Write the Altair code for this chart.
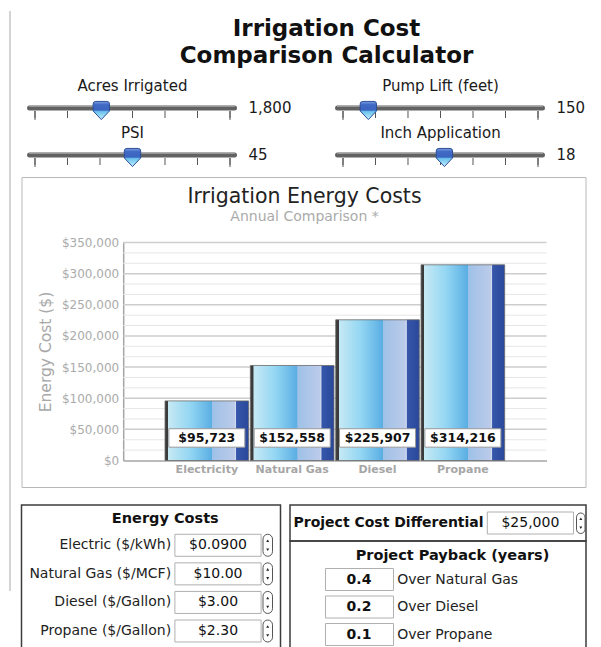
import altair as alt
import pandas as pd

# ---------------- data ----------------
calc_title = ["Irrigation Cost", "Comparison Calculator"]

slider_names = ["Acres Irrigated", "Pump Lift (feet)", "PSI", "Inch Application"]
slider_values = ["1,800", "150", "45", "18"]
slider_positions = [0.34, 0.13, 0.50, 0.52]
slider_ticks = [0.0, 0.1667, 0.3333, 0.5, 0.6667, 0.8333, 1.0]

chart_title = ["Irrigation Energy Costs"]
chart_subtitle = ["Annual Comparison *"]
fuels = ["Electricity", "Natural Gas", "Diesel", "Propane"]
annual_costs = [95723, 152558, 225907, 314216]
cost_labels = ["$95,723", "$152,558", "$225,907", "$314,216"]
y_ticks = [0, 50000, 100000, 150000, 200000, 250000, 300000, 350000]
y_minor = [16667, 33333, 66667, 83333, 116667, 133333, 166667, 183333,
           216667, 233333, 266667, 283333, 316667, 333333]

energy_title = ["Energy Costs"]
energy_items = ["Electric ($/kWh)", "Natural Gas ($/MCF)", "Diesel ($/Gallon)", "Propane ($/Gallon)"]
energy_prices = ["$0.0900", "$10.00", "$3.00", "$2.30"]
diff_label = ["Project Cost Differential"]
diff_value = ["$25,000"]
payback_title = ["Project Payback (years)"]
payback_years = ["0.4", "0.2", "0.1"]
payback_items = ["Over Natural Gas", "Over Diesel", "Over Propane"]

# ---------------- styles ----------------
FONT = "DejaVu Sans"
SHIELD = "M-0.9,-0.72 Q-0.9,-1 -0.62,-1 L0.62,-1 Q0.9,-1 0.9,-0.72 L0.9,0.05 L0,1 L-0.9,0.05 Z"

handle_grad = alt.LinearGradient(
    gradient="linear", x1=0, y1=0, x2=0, y2=1,
    stops=[alt.GradientStop(color="#7d9ee0", offset=0),
           alt.GradientStop(color="#3f69c4", offset=0.18),
           alt.GradientStop(color="#3a64c0", offset=0.48),
           alt.GradientStop(color="#6cc2ee", offset=0.56),
           alt.GradientStop(color="#c4efff", offset=1)])

bar_grad = alt.LinearGradient(
    gradient="linear", x1=0, y1=0, x2=1, y2=0,
    stops=[alt.GradientStop(color="#3b3b3b", offset=0),
           alt.GradientStop(color="#3b3b3b", offset=0.035),
           alt.GradientStop(color="#c6e9f4", offset=0.04),
           alt.GradientStop(color="#93d6f3", offset=0.3),
           alt.GradientStop(color="#5aaee3", offset=0.56),
           alt.GradientStop(color="#9ec1e7", offset=0.565),
           alt.GradientStop(color="#bccbea", offset=0.83),
           alt.GradientStop(color="#d4ddf0", offset=0.845),
           alt.GradientStop(color="#3556aa", offset=0.855),
           alt.GradientStop(color="#2a489a", offset=1)])


def one(col, values):
    return pd.DataFrame({col: values})


# ---------------- header + sliders (one view, one x scale per slider) ----------------
frame = alt.Chart(one("t", [0])).mark_rule(color="#d4d4d4", strokeWidth=2).encode(
    x=alt.value(-11.5), y=alt.value(2), y2=alt.value(582))
title1 = alt.Chart(one("t", calc_title[:1])).mark_text(
    fontSize=23, fontWeight="bold", color="#111111", baseline="alphabetic"
).encode(text="t:N", x=alt.value(305), y=alt.value(27))
title2 = alt.Chart(one("t", calc_title[1:])).mark_text(
    fontSize=23, fontWeight="bold", color="#111111", baseline="alphabetic"
).encode(text="t:N", x=alt.value(305), y=alt.value(53.7))


def slider_layers(i, x0, y0):
    xs = alt.Scale(domain=[0, 1], range=[x0 + 13.5, x0 + 208.5])
    X = lambda f: alt.X(f, scale=xs, axis=None)
    track_df = pd.DataFrame({"a": [-0.028], "b": [1.023]})
    track = alt.Chart(track_df).mark_rule(color="#626262", strokeWidth=5, strokeCap="round").encode(
        x=X("a:Q"), x2="b:Q", y=alt.value(y0 + 22))
    shine = alt.Chart(track_df).mark_rule(color="#ababab", strokeWidth=1.2, strokeCap="round").encode(
        x=X("a:Q"), x2="b:Q", y=alt.value(y0 + 20.2))
    ticks = alt.Chart(one("t", slider_ticks)).mark_rule(color="#555555", strokeWidth=1).encode(
        x=X("t:Q"), y=alt.value(y0 + 25), y2=alt.value(y0 + 32))
    ends = alt.Chart(one("t", [slider_ticks[0], slider_ticks[-1]])).mark_rule(color="#555555", strokeWidth=1).encode(
        x=X("t:Q"), y=alt.value(y0 + 25), y2=alt.value(y0 + 34))
    handle = alt.Chart(one("p", [slider_positions[i]])).mark_point(
        shape=SHIELD, size=330, filled=True, fill=handle_grad, stroke="#2c4f96",
        strokeWidth=1, opacity=1
    ).encode(x=X("p:Q"), y=alt.value(y0 + 24.5))
    label = alt.Chart(one("n", [slider_names[i]])).mark_text(fontSize=15, color="#1a1a1a").encode(
        text="n:N", x=alt.value(x0 + 111), y=alt.value(y0))
    value = alt.Chart(one("v", [slider_values[i]])).mark_text(fontSize=15, color="#1a1a1a", align="left").encode(
        text="v:N", x=alt.value(x0 + 227), y=alt.value(y0 + 22))
    return [track, shine, ticks, ends, handle, label, value]


top_layers = [frame, title1, title2]
top_layers += slider_layers(0, 0, 77)
top_layers += slider_layers(1, 308, 77)
top_layers += slider_layers(2, 0, 124)
top_layers += slider_layers(3, 308, 124)
top = alt.layer(*top_layers).resolve_scale(x="independent").properties(width=565, height=150)

# ---------------- bar chart panel ----------------
bar_df = pd.DataFrame({"fuel": fuels, "cost": annual_costs, "label": cost_labels})
xsc = alt.Scale(domain=fuels, range=[101.7, 525], paddingInner=0.02, paddingOuter=0.49)
ysc = alt.Scale(domain=[0, 350000], range=[283.5, 65.5], nice=False)

x_axis = alt.Axis(offset=-26.5, labelColor="#a6a6a6", labelFontSize=11, labelFontWeight="bold",
                  labelPadding=3, ticks=False, domainColor="#a5a5a5", domainWidth=1.5,
                  title=None, labelAngle=0)
y_axis = alt.Axis(values=y_ticks, format="$,.0f", offset=-101.7, labelColor="#ababab",
                  labelFontSize=12, labelPadding=4.5, ticks=False, grid=False,
                  domainColor="#a5a5a5", domainWidth=1.5, title="Energy Cost ($)",
                  titleColor="#a8a8a8", titleFontSize=15.5, titleFontWeight="normal",
                  titlePadding=8)
XF = alt.X("fuel:N", sort=fuels, scale=xsc, axis=x_axis)

minor = alt.Chart(one("v", y_minor)).mark_rule(color="#e6e6e6", strokeWidth=1).encode(
    y=alt.Y("v:Q", scale=ysc, axis=y_axis), x=alt.value(101.7), x2=alt.value(525))
major = alt.Chart(one("v", y_ticks[1:])).mark_rule(color="#cdcdcd", strokeWidth=1.5).encode(
    y=alt.Y("v:Q", scale=ysc, axis=y_axis), x=alt.value(101.7), x2=alt.value(525))
bars = alt.Chart(bar_df).mark_bar(color=bar_grad, stroke="#6a6a6a", strokeWidth=0.8).encode(
    x=XF, y=alt.Y("cost:Q", scale=ysc, axis=y_axis))
boxes = alt.Chart(bar_df).mark_bar(size=76, fill="white", stroke="#9a9a9a", strokeWidth=1).encode(
    x=XF, y=alt.YDatum(21400, scale=ysc, axis=y_axis), y2=alt.Y2Datum(51000))
values = alt.Chart(bar_df).mark_text(fontSize=12.5, fontWeight="bold", color="#111111").encode(
    x=XF, y=alt.YDatum(36200, scale=ysc, axis=y_axis), text="label:N")
ptitle = alt.Chart(one("t", chart_title)).mark_text(fontSize=20.5, color="#222222", baseline="alphabetic").encode(
    text="t:N", x=alt.value(283), y=alt.value(26))
psub = alt.Chart(one("t", chart_subtitle)).mark_text(fontSize=14, color="#ababab").encode(
    text="t:N", x=alt.value(283), y=alt.value(40))

panel = alt.layer(minor, major, bars, boxes, values, ptitle, psub).properties(
    width=564, height=310, view=alt.ViewBackground(stroke="#b8b8b8", strokeWidth=1))

# ---------------- bottom boxes ----------------
BOX = alt.ViewBackground(stroke="#3c3c3c", strokeWidth=1.5)

e_df = pd.DataFrame({"item": energy_items, "price": energy_prices})
e_y = alt.Y("item:N", sort=None, axis=None,
            scale=alt.Scale(range=[26, 140.3], paddingInner=0.23, paddingOuter=0.115))
e_title = alt.Chart(one("t", energy_title)).mark_text(fontSize=14.5, fontWeight="bold", color="#111111").encode(
    text="t:N", x=alt.value(143.8), y=alt.value(14.3))
e_lab = alt.Chart(e_df).mark_text(fontSize=14, color="#222222", align="right").encode(
    text="item:N", y=e_y, x=alt.value(149.6))
e_in = alt.Chart(e_df).mark_rect(fill="white", stroke="#b0b0b0", strokeWidth=1).encode(
    y=e_y, x=alt.value(153.4), x2=alt.value(239.6))
e_val = alt.Chart(e_df).mark_text(fontSize=14, color="#111111").encode(
    text="price:N", y=e_y, x=alt.value(196.5))
e_spin = alt.Chart(e_df).mark_rect(fill="white", stroke="#555555", strokeWidth=1, cornerRadius=5).encode(
    y=e_y, x=alt.value(241.5), x2=alt.value(251))
e_up = alt.Chart(e_df).mark_point(shape="triangle-up", size=9, filled=True, color="#222222", opacity=1, yOffset=-4.5).encode(
    y=e_y, x=alt.value(246.2))
e_dn = alt.Chart(e_df).mark_point(shape="triangle-down", size=9, filled=True, color="#222222", opacity=1, yOffset=4.5).encode(
    y=e_y, x=alt.value(246.2))
left_box = alt.layer(e_title, e_in, e_lab, e_val, e_spin, e_up, e_dn).properties(width=259, height=156, view=BOX)

d_lab = alt.Chart(one("t", diff_label)).mark_text(fontSize=14, fontWeight="bold", color="#111111", align="left").encode(
    text="t:N", x=alt.value(3.5), y=alt.value(18.3))
d_in = alt.Chart(one("t", diff_value)).mark_rect(fill="white", stroke="#b0b0b0", strokeWidth=1).encode(
    x=alt.value(197.3), x2=alt.value(283.5), y=alt.value(7), y2=alt.value(29))
d_val = alt.Chart(one("t", diff_value)).mark_text(fontSize=14, color="#111111").encode(
    text="t:N", x=alt.value(240.4), y=alt.value(18.3))
d_spin = alt.Chart(one("t", diff_value)).mark_rect(fill="white", stroke="#555555", strokeWidth=1, cornerRadius=5).encode(
    x=alt.value(286.5), x2=alt.value(295), y=alt.value(8), y2=alt.value(28.5))
d_up = alt.Chart(one("t", diff_value)).mark_point(shape="triangle-up", size=9, filled=True, color="#222222", opacity=1).encode(
    x=alt.value(290.8), y=alt.value(13.8))
d_dn = alt.Chart(one("t", diff_value)).mark_point(shape="triangle-down", size=9, filled=True, color="#222222", opacity=1).encode(
    x=alt.value(290.8), y=alt.value(22.8))
top_right = alt.layer(d_lab, d_in, d_val, d_spin, d_up, d_dn).properties(width=296, height=36, view=BOX)

p_df = pd.DataFrame({"item": payback_items, "years": payback_years})
p_y = alt.Y("item:N", sort=None, axis=None,
            scale=alt.Scale(range=[24.75, 107.25], paddingInner=0.2, paddingOuter=0.1))
p_title = alt.Chart(one("t", payback_title)).mark_text(fontSize=14.5, fontWeight="bold", color="#111111").encode(
    text="t:N", x=alt.value(162.5), y=alt.value(15))
p_in = alt.Chart(p_df).mark_rect(fill="white", stroke="#b0b0b0", strokeWidth=1).encode(
    y=p_y, x=alt.value(35.5), x2=alt.value(103.5))
p_val = alt.Chart(p_df).mark_text(fontSize=14, fontWeight="bold", color="#111111").encode(
    text="years:N", y=p_y, x=alt.value(69))
p_lab = alt.Chart(p_df).mark_text(fontSize=14, color="#222222", align="left").encode(
    text="item:N", y=p_y, x=alt.value(107.2))
bottom_right = alt.layer(p_title, p_in, p_val, p_lab).properties(width=296, height=120, view=BOX)

bottom = alt.hconcat(left_box, alt.vconcat(top_right, bottom_right, spacing=0, bounds="flush"),
                     spacing=9.5, bounds="flush")

chart = alt.vconcat(top, panel, bottom, spacing=18, bounds="flush").properties(
    padding={"left": 0.5, "top": 0, "right": 2, "bottom": 0},
    background="white",
).configure(font=FONT).configure_view(stroke="transparent")

chart.save("out.html", embed_options={"renderer": "svg", "actions": False})
